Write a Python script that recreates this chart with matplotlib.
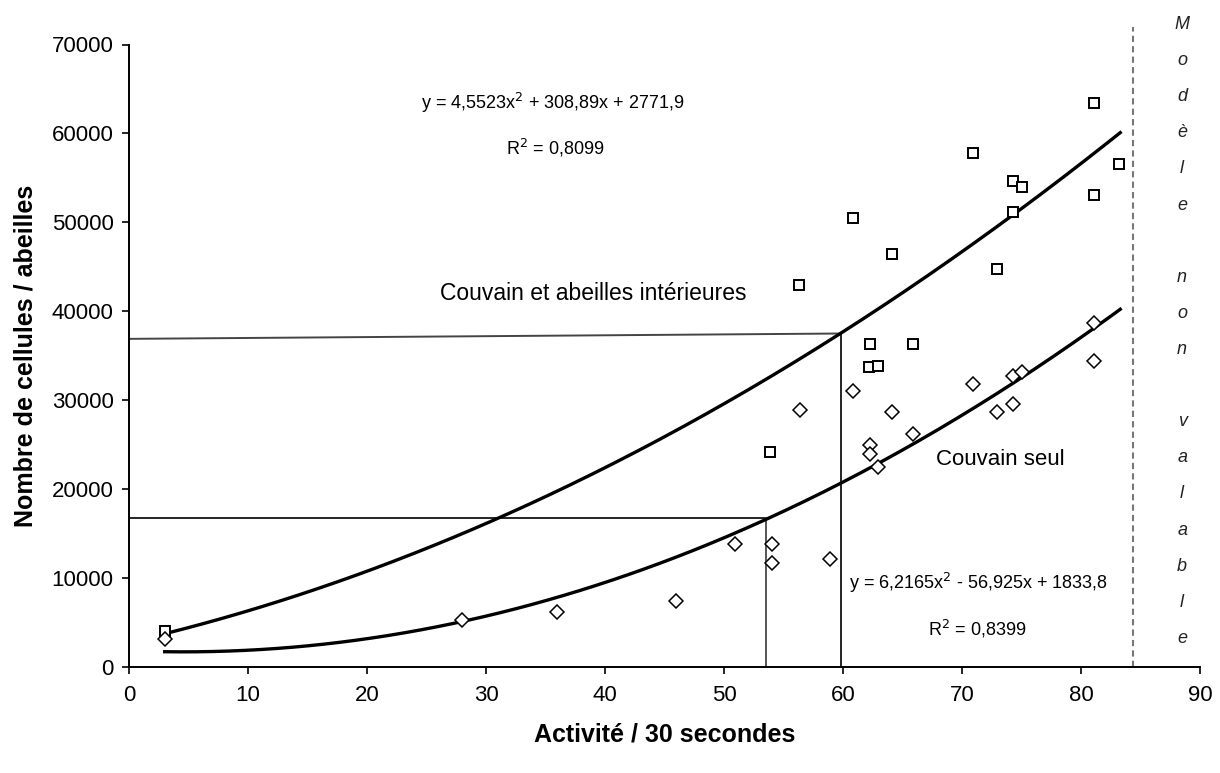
import matplotlib
matplotlib.use("Agg")
import matplotlib.pyplot as plt
from matplotlib import font_manager
import numpy as np

# ---- data ----
sq_x = [3.0, 53.9, 56.3, 60.8, 62.3, 62.2, 62.9, 64.1, 65.9, 70.9, 72.9, 74.3, 74.3, 75.0, 81.1, 81.1, 83.2]
sq_y = [4100, 24200, 42900, 50500, 36300, 33700, 33900, 46400, 36300, 57800, 44800, 54700, 51200, 54000, 63400, 53100, 56600]

di_x = [3.0, 28.0, 36.0, 46.0, 50.9, 54.0, 54.0, 58.9, 56.4, 60.8, 62.3, 62.3, 62.9, 64.1, 65.9,
        70.9, 72.9, 74.3, 74.3, 75.0, 81.1, 81.1]
di_y = [3100, 5300, 6200, 7400, 13800, 13800, 11700, 12100, 28900, 31000, 25000, 24000, 22500, 28700, 26200,
        31800, 28700, 32700, 29600, 33200, 38700, 34400]

coef_upper = [4.5523, 308.89, 2771.9]
coef_lower = [6.2165, -56.925, 1833.8]
trend_range = [3.0, 83.3]

eq_upper = "y = 4,5523x$^2$ + 308,89x + 2771,9"
r2_upper = "R$^2$ = 0,8099"
eq_lower = "y = 6,2165x$^2$ - 56,925x + 1833,8"
r2_lower = "R$^2$ = 0,8399"
label_upper = "Couvain et abeilles intérieures"
label_lower = "Couvain seul"
side_text = "Modèle non valable"

x_ticks = [0, 10, 20, 30, 40, 50, 60, 70, 80, 90]
y_ticks = [0, 10000, 20000, 30000, 40000, 50000, 60000, 70000]

read_upper = [59.8, 36900, 37500]   # x, y at axis, y at curve
read_lower = [53.5, 16700]
limit_x = 84.4

# ---- fonts ----
avail = {f.name for f in font_manager.fontManager.ttflist}
narrow = "Liberation Sans Narrow" if "Liberation Sans Narrow" in avail else "Liberation Sans"
regular = "Liberation Sans" if "Liberation Sans" in avail else "DejaVu Sans"

fig = plt.figure(figsize=(12.2, 7.73), dpi=100)
ax = fig.add_axes([129/1220, 1-667/773, (1200-129)/1220, (667-44.5)/773])

xs = np.linspace(trend_range[0], trend_range[1], 300)
ax.plot(xs, np.polyval(coef_upper, xs), color="black", lw=2.4, zorder=3)
ax.plot(xs, np.polyval(coef_lower, xs), color="black", lw=2.4, zorder=3)

ax.plot(sq_x, sq_y, linestyle="none", marker="s", markersize=7.5, markerfacecolor="white",
        markeredgecolor="black", markeredgewidth=1.4, zorder=4)
ax.plot(di_x, di_y, linestyle="none", marker="D", markersize=6.8, markerfacecolor="white",
        markeredgecolor="black", markeredgewidth=1.1, zorder=4)

# reading lines
ax.plot([0, read_upper[0]], [read_upper[1], read_upper[2]], color="#444444", lw=1.4, zorder=2)
ax.plot([read_upper[0], read_upper[0]], [0, read_upper[2]], color="black", lw=1.2, zorder=2)
ax.plot([0, read_lower[0]], [read_lower[1], read_lower[1]], color="black", lw=1.2, zorder=2)
ax.plot([read_lower[0], read_lower[0]], [0, read_lower[1]], color="#555555", lw=1.4, zorder=2)

ax.plot([limit_x, limit_x], [0, 72000], color="#777777", lw=1.5, linestyle=(0, (3, 2)),
        clip_on=False, zorder=2)

ax.set_xlim(0, 90)
ax.set_ylim(0, 70000)
ax.set_xticks(x_ticks)
ax.set_yticks(y_ticks)
ax.set_xticklabels([str(t) for t in x_ticks], fontfamily=narrow, fontsize=16)
ax.set_yticklabels([str(t) for t in y_ticks], fontfamily=regular, fontsize=16)
ax.tick_params(axis="both", direction="out", length=5, width=1.2, color="black")
ax.tick_params(axis="x", pad=8)
ax.tick_params(axis="y", pad=6)
for s in ["top", "right"]:
    ax.spines[s].set_visible(False)
for s in ["left", "bottom"]:
    ax.spines[s].set_linewidth(1.4)

ax.set_xlabel("Activité / 30 secondes", fontfamily=narrow, fontweight="bold", fontsize=18, labelpad=12)
ax.set_ylabel("Nombre de cellules / abeilles", fontfamily=narrow, fontweight="bold", fontsize=18, labelpad=10)

ax.text(35.6, 63400, eq_upper, ha="center", va="center", fontfamily=narrow, fontsize=13)
ax.text(35.8, 58400, r2_upper, ha="center", va="center", fontfamily=narrow, fontsize=13)
ax.text(39.0, 42000, label_upper, ha="center", va="center", fontfamily=narrow, fontsize=16.5)
ax.text(73.2, 23300, label_lower, ha="center", va="center", fontfamily=narrow, fontsize=16)
ax.text(71.4, 9400, eq_lower, ha="center", va="center", fontfamily=narrow, fontsize=13)
ax.text(71.3, 4300, r2_lower, ha="center", va="center", fontfamily=narrow, fontsize=13)

stacked = "\n".join(list(side_text))
ax.text(88.5, 73200, stacked, ha="center", va="top", fontfamily=regular, fontstyle="italic",
        fontsize=13, linespacing=2.47, clip_on=False, color="#222222")

fig.savefig("out.png", dpi=100)
